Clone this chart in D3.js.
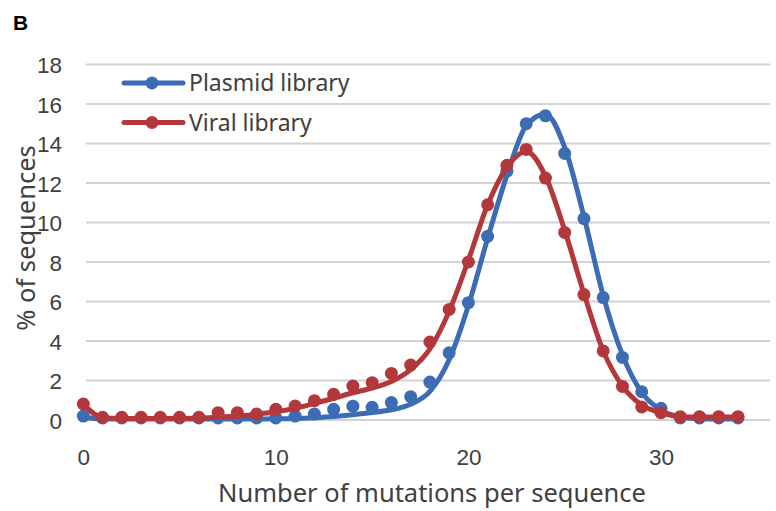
<!DOCTYPE html>
<html>
<head>
<meta charset="utf-8">
<script src="https://cdn.jsdelivr.net/npm/d3@7"></script>
<style>
	body { margin: 0; background: #fff; }
	svg { display: block; font-family: 'Noto Sans', 'Open Sans', sans-serif; }
</style>
</head>
<body>
<div id="chart"></div>
<script>

// mutations per sequence
const mutations = d3.range(0, 35);

// % of sequences, dots
const plasmid = [0.2, 0.1, 0.1, 0.1, 0.1, 0.1, 0.1, 0.1, 0.1, 0.1,
	0.1, 0.2, 0.3, 0.54, 0.7, 0.64, 0.88, 1.18, 1.92, 3.4,
	5.94, 9.3, 12.6, 15.0, 15.4, 13.5, 10.2, 6.2, 3.17, 1.43,
	0.59, 0.1, 0.1, 0.1, 0.1];
const viral = [0.81, 0.14, 0.14, 0.14, 0.14, 0.14, 0.14, 0.37, 0.37, 0.3,
	0.54, 0.71, 0.98, 1.3, 1.72, 1.89, 2.36, 2.78, 3.95, 5.6,
	8.0, 10.9, 12.9, 13.7, 12.25, 9.5, 6.35, 3.5, 1.7, 0.66,
	0.37, 0.17, 0.17, 0.17, 0.17];

// smoothed curves
const plasmidCurve = [0.15, 0.05, 0.05, 0.05, 0.05, 0.05, 0.05, 0.05, 0.05, 0.05,
	0.06, 0.08, 0.12, 0.18, 0.27, 0.38, 0.52, 0.8, 1.45, 3.05,
	5.8, 9.2, 12.4, 14.9, 15.5, 13.8, 10.3, 6.3, 3.3, 1.4,
	0.5, 0.15, 0.06, 0.05, 0.05];
const viralCurve = [0.81, 0.12, 0.08, 0.08, 0.08, 0.08, 0.1, 0.14, 0.2, 0.3,
	0.42, 0.59, 0.84, 1.1, 1.38, 1.62, 1.95, 2.55, 3.6, 5.5,
	8.1, 10.9, 12.8, 13.6, 12.35, 9.6, 6.4, 3.5, 1.72, 0.76,
	0.37, 0.17, 0.15, 0.15, 0.15];

const series = [
	{name: 'Plasmid library', color: '#3c6db4', dots: plasmid, curve: plasmidCurve},
	{name: 'Viral library', color: '#b3383c', dots: viral, curve: viralCurve}
];

const xTicks = [0, 10, 20, 30];
const yTicks = [0, 2, 4, 6, 8, 10, 12, 14, 16, 18];

////////////////////////////////////////////////////////////////////

const w_svg = 776;
const h_svg = 511;

const svg = d3.select('#chart')
	.append('svg')
	.attr('width', w_svg)
	.attr('height', h_svg);

const scaleX = d3.scaleLinear().domain([0, 34]).range([83.3, 738]);
const scaleY = d3.scaleLinear().domain([0, 18]).range([420, 64.5]);

const textColor = '#404040';

////////////////////////////////////////////////////////////////////

// grid + y labels
const axisY = d3.axisLeft()
	.scale(scaleY)
	.tickValues(yTicks)
	.tickSize(0)
	.tickPadding(0);

const axisYNode = svg.append('g')
	.attr('class', 'axis axis-y')
	.attr('transform', 'translate(62,0)')
	.call(axisY);
axisYNode.select('.domain').remove();
axisYNode.selectAll('text')
	.attr('dy', '0.36em')
	.style('font-size', '22.5px')
	.style('font-family', null)
	.attr('fill', textColor);

svg.append('g')
	.attr('class', 'grid')
	.selectAll('line')
	.data(yTicks)
	.enter()
	.append('line')
	.attr('x1', 86)
	.attr('x2', 770)
	.attr('y1', d => scaleY(d))
	.attr('y2', d => scaleY(d))
	.attr('stroke', '#d2d2d2')
	.attr('stroke-width', 1.8);

// x labels
const axisX = d3.axisBottom()
	.scale(scaleX)
	.tickValues(xTicks)
	.tickSize(0)
	.tickPadding(0);

const axisXNode = svg.append('g')
	.attr('class', 'axis axis-x')
	.attr('transform', 'translate(0,448)')
	.call(axisX);
axisXNode.select('.domain').remove();
axisXNode.selectAll('text')
	.attr('dy', '0.75em')
	.style('font-size', '22.5px')
	.style('font-family', null)
	.attr('fill', textColor);

////////////////////////////////////////////////////////////////////

const line = d3.line()
	.x((d, i) => scaleX(mutations[i]))
	.y(d => scaleY(d))
	.curve(d3.curveMonotoneX);

const plot = svg.append('g').attr('class', 'plot');

series.forEach(s => {
	const g = plot.append('g');
	g.append('path')
		.datum(s.curve)
		.attr('d', line)
		.attr('fill', 'none')
		.attr('stroke', s.color)
		.attr('stroke-width', 5)
		.attr('stroke-linecap', 'round')
		.attr('stroke-linejoin', 'round');
	g.selectAll('.dot')
		.data(s.dots)
		.enter()
		.append('circle')
		.attr('class', 'dot')
		.attr('cx', (d, i) => scaleX(mutations[i]))
		.attr('cy', d => scaleY(d))
		.attr('r', 6.5)
		.attr('fill', s.color);
});

////////////////////////////////////////////////////////////////////

// legend
const legend = svg.append('g')
	.attr('class', 'legend')
	.selectAll('g')
	.data(series)
	.enter()
	.append('g')
	.attr('transform', (d, i) => `translate(0,${83 + i * 39.5})`);

legend.append('line')
	.attr('x1', 124)
	.attr('x2', 183)
	.attr('stroke', d => d.color)
	.attr('stroke-width', 5)
	.attr('stroke-linecap', 'round');
legend.append('circle')
	.attr('cx', 152)
	.attr('r', 6.5)
	.attr('fill', d => d.color);
legend.append('text')
	.attr('x', 189)
	.attr('dy', '0.36em')
	.style('font-size', '23px')
	.attr('fill', textColor)
	.text(d => d.name);

////////////////////////////////////////////////////////////////////

// titles
svg.append('text')
	.attr('x', 432)
	.attr('y', 493)
	.attr('dy', '0.35em')
	.attr('text-anchor', 'middle')
	.style('font-size', '25.5px')
	.attr('fill', textColor)
	.text('Number of mutations per sequence');

svg.append('text')
	.attr('transform', 'translate(26,238) rotate(-90)')
	.attr('dy', '0.35em')
	.attr('text-anchor', 'middle')
	.style('font-size', '25.5px')
	.attr('fill', textColor)
	.text('% of sequences');

svg.append('text')
	.attr('x', 13)
	.attr('y', 22)
	.attr('dy', '0.36em')
	.style('font-size', '21px')
	.style('font-weight', 'bold')
	.style('font-family', 'Liberation Sans, Arial, sans-serif')
	.attr('fill', '#000')
	.text('B');

</script>
</body>
</html>
